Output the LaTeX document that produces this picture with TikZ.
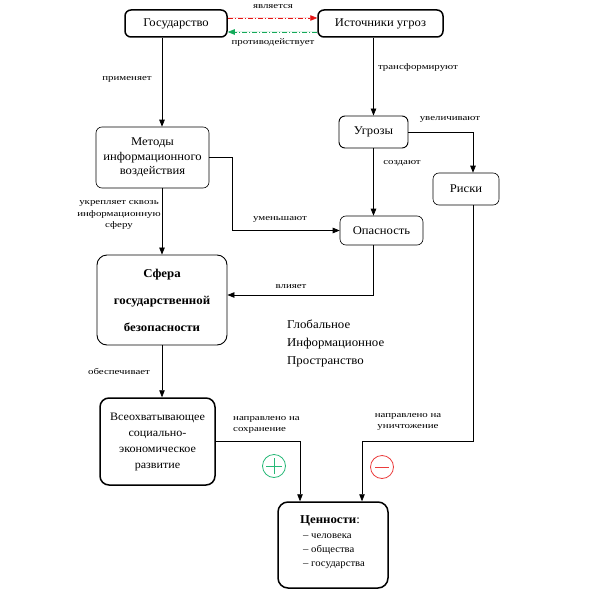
\documentclass[tikz,border=0pt]{standalone}
\usepackage{fontspec}
\setmainfont{Liberation Serif}
\newfontfamily\boxfnt[FakeStretch=1.07,Ligatures=TeX]{Liberation Serif}
\newfontfamily\lblfnt[FakeStretch=1.28,Ligatures=TeX]{Liberation Serif}
\usetikzlibrary{arrows.meta,calc}
\begin{document}
\begin{tikzpicture}[x=1pt,y=-1pt,
  box/.style={draw,rounded corners=6pt,align=center,inner sep=2pt,font=\boxfnt\fontsize{11.8}{14.5}\selectfont},
  thick box/.style={box,line width=1.5pt},
  thin box/.style={box,line width=0.6pt},
  lbl/.style={font=\lblfnt\fontsize{8.5}{11.5}\selectfont,align=center,inner sep=0pt},
  arr/.style={line width=0.7pt,-{Triangle[length=7pt,width=5.5pt]}},
  ddash/.style={line width=0.7pt,dash pattern=on 5pt off 2pt on 1pt off 2pt,-{Triangle[length=7pt,width=5.5pt]}}]
\useasboundingbox (0,0) rectangle (591,591);
\fill[white] (0,0) rectangle (591,591);
\definecolor{rdc}{RGB}{230,20,20}
\definecolor{grc}{RGB}{20,170,90}
\definecolor{pluscol}{RGB}{40,185,120}
\definecolor{minuscol}{RGB}{235,60,60}

\node[thick box,minimum width=102pt,minimum height=27pt] (gos) at (176,23.5) {Государство};
\node[thick box,minimum width=125pt,minimum height=27pt] (ist) at (380.5,23.5) {Источники угроз};
\node[thin box,minimum width=113pt,minimum height=61pt] (met) at (152.5,157.5) {Методы\\информационного\\воздействия};
\node[box,line width=0.9pt,minimum width=69pt,minimum height=32pt] (ugr) at (373.5,132) {Угрозы};
\node[thin box,minimum width=66pt,minimum height=32pt] (risk) at (466,189) {Риски};
\node[thin box,minimum width=83pt,minimum height=29pt] (op) at (381.5,230.5) {Опасность};
\node[box,line width=0.9pt,minimum width=130pt,minimum height=90pt,rounded corners=10pt,font=\boxfnt\fontsize{12}{27}\selectfont\bfseries] (sf) at (162,300) {Сфера\\государственной\\безопасности};
\node[thick box,rounded corners=9pt,minimum width=115pt,minimum height=87pt,font=\boxfnt\fontsize{11.3}{16}\selectfont] (vse) at (157.5,441.5) {Всеохватывающее\\социально-\\экономическое\\развитие};
\node[thick box,rounded corners=10pt,minimum width=110pt,minimum height=86pt] (cen) at (333,545) {};
\node[font=\boxfnt\fontsize{12}{14}\selectfont,inner sep=0pt] (centitle) at (330,521) {\textbf{Ценности}:};
\node[font=\boxfnt\fontsize{10}{14}\selectfont,align=left,anchor=west,inner sep=0pt] (cenitems) at (303,551) {– человека\\– общества\\– государства};

\node[font=\boxfnt\fontsize{12}{18}\selectfont,align=left,anchor=north west,inner sep=0pt] (glob) at (287,320) {Глобальное\\Информационное\\Пространство};

\coordinate (rx) at (473,0);
\coordinate (rbend) at (473,441);

\draw[ddash,draw=rdc,fill=rdc] ([yshift=5.5pt]gos.east) -- ([yshift=5.5pt]gos.east -| ist.west);
\draw[ddash,draw=grc,fill=grc] ([yshift=-8.5pt]ist.west) -- ([yshift=-8.5pt]ist.west -| gos.east);
\draw[arr] (gos.south -| sf.north) -- (met.north -| sf.north);
\draw[arr] (ist.south -| ugr.north) -- (ugr.north);
\draw[arr] (met.east) -- ++(23,0) |- (op.west);
\draw[arr] (met.south -| sf.north) -- (sf.north);
\draw[arr] (ugr.east) -| (risk.north -| rx);
\draw[arr] (ugr.south) -- (op.north -| ugr.south);
\draw[arr] (op.south -| ugr.south) |- ([yshift=5pt]sf.east);
\draw[arr] (sf.south) -- (vse.north -| sf.south);
\draw[arr] (vse.east) -| ([xshift=-33pt]cen.north);
\draw[arr] (risk.south -| rbend) -- (rbend) -| ([xshift=29pt]cen.north);

\node[lbl] (l1) at (273,7) {является};
\node[lbl] (l2) at (273,43) {противодействует};
\node[lbl] (l3) at (127,79) {применяет};
\node[lbl] (l4) at (119,215) {укрепляет сквозь\\информационную\\сферу};
\node[lbl] (l5) at (280,219) {уменьшают};
\node[lbl] (l6) at (418,67) {трансформируют};
\node[lbl] (l7) at (450,119) {увеличивают};
\node[lbl] (l8) at (402,163) {создают};
\node[lbl] (l9) at (291,287) {влияет};
\node[lbl] (l10) at (119,371) {обеспечивает};
\node[lbl,align=left,anchor=west] (l11) at (233,425) {направлено на\\сохранение};
\node[lbl] (l12) at (408,422) {направлено на\\уничтожение};

\node[draw=pluscol,circle,line width=0.8pt,minimum size=23pt,inner sep=0pt] (plus) at (274,466) {};
\draw[pluscol,line width=0.8pt] ([xshift=-8pt]plus.center) -- ([xshift=8pt]plus.center)
  ([yshift=-8pt]plus.center) -- ([yshift=8pt]plus.center);
\node[draw=minuscol,circle,line width=0.8pt,minimum size=23pt,inner sep=0pt] (minus) at (382,467) {};
\draw[minuscol,line width=0.8pt] ([xshift=-7pt]minus.center) -- ([xshift=7pt]minus.center);
\end{tikzpicture}
\end{document}
